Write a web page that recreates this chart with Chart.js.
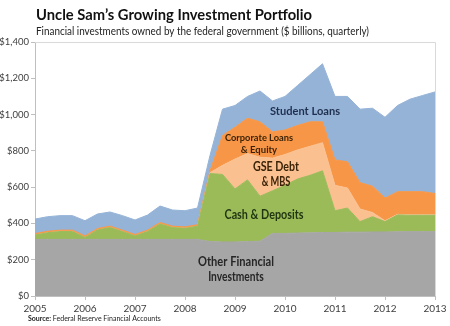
<!DOCTYPE html>
<html lang="en">
<head>
  <meta charset="UTF-8">
  <title>Uncle Sam's Growing Investment Portfolio</title>
  <script src="https://cdn.jsdelivr.net/npm/chart.js"></script>
  <style>
    body { margin: 0; background: #fff; }
    canvas { display: block; }
  </style>
</head>
<body>
  <canvas id="portfolio" width="450" height="326"></canvas>

  <script>
    // quarterly observations, $ billions
    const quarters = [
      '2005Q1','2005Q2','2005Q3','2005Q4','2006Q1','2006Q2','2006Q3','2006Q4',
      '2007Q1','2007Q2','2007Q3','2007Q4','2008Q1','2008Q2','2008Q3','2008Q4',
      '2009Q1','2009Q2','2009Q3','2009Q4','2010Q1','2010Q2','2010Q3','2010Q4',
      '2011Q1','2011Q2','2011Q3','2011Q4','2012Q1','2012Q2','2012Q3','2012Q4',
      '2013Q1'
    ];
    const otherFinancial = [312,312,312,312,312,312,312,312,312,312,312,312,312,312,
      300,298,298,300,302,345,345,347,348,350,350,352,352,353,353,354,355,355,355];
    const cashDeposits = [24,37,43,43,11,52,65,43,19,43,85,65,61,73,
      375,372,292,340,248,235,265,298,317,340,120,133,58,84,57,93,90,90,90];
    const gseDebt = [0,0,0,0,0,0,0,0,0,0,0,0,0,0,
      5,50,165,145,215,180,170,160,160,155,140,110,70,23,5,3,3,3,3];
    const corporateLoans = [8,8,8,8,8,8,8,8,8,8,8,8,8,8,
      10,165,175,195,195,145,135,135,135,115,140,145,145,145,125,125,127,127,117];
    const studentLoans = [80,80,80,80,84,80,78,80,80,83,91,89,89,92,
      85,145,120,120,170,170,185,220,260,320,350,360,405,430,445,475,510,530,560];

    const yearTicks = [2005, 2006, 2007, 2008, 2009, 2010, 2011, 2012, 2013];
    const dollarTicks = [0, 200, 400, 600, 800, 1000, 1200, 1400];

    const toYear = q => Number(q.slice(0, 4)) + (Number(q.slice(5)) - 1) / 4;

    const layers = [
      { label: 'Other Financial Investments', values: otherFinancial, color: '#A6A6A6' },
      { label: 'Cash & Deposits', values: cashDeposits, color: '#9BBB59' },
      { label: 'GSE Debt & MBS', values: gseDebt, color: '#FAC090' },
      { label: 'Corporate Loans & Equity', values: corporateLoans, color: '#F79646' },
      { label: 'Student Loans', values: studentLoans, color: '#95B3D7' }
    ];

    // labels inside the areas, placed in data units
    const areaLabels = [
      { lines: ['Student Loans'], x: 2010.4, y: 1020, size: 12, w: 70, color: '#1F2F4F' },
      { lines: ['Corporate Loans', '& Equity'], x: 2009.48, y: 871, size: 10, w: 68, color: '#3A2208', gap: 66 },
      { lines: ['GSE Debt', '& MBS'], x: 2009.82, y: 711, size: 12.5, w: 46, color: '#3A2208', gap: 83 },
      { lines: ['Cash & Deposits'], x: 2009.58, y: 446, size: 12.5, w: 79, color: '#1E3510' },
      { lines: ['Other Financial', 'Investments'], x: 2009.02, y: 187, size: 12.5, w: 76, color: '#262626', gap: 83 }
    ];

    const textPlugin = {
      id: 'texts',
      afterDatasetsDraw(chart) {
        const { ctx, chartArea: a, scales } = chart;
        ctx.save();
        ctx.strokeStyle = '#D9D9D9';
        ctx.lineWidth = 1;
        ctx.beginPath();
        ctx.moveTo(a.left, a.top + 0.5);
        ctx.lineTo(a.right + 0.5, a.top + 0.5);
        ctx.lineTo(a.right + 0.5, a.bottom);
        ctx.stroke();

        ctx.textAlign = 'center';
        ctx.textBaseline = 'middle';
        areaLabels.forEach(l => {
          ctx.font = 'bold ' + l.size + 'px Lato, "Open Sans", sans-serif';
          ctx.fillStyle = l.color;
          const px = scales.x.getPixelForValue(l.x);
          l.lines.forEach((t, i) => {
            const v = l.y - i * (l.gap || 0);
            ctx.fillText(t, px, scales.y.getPixelForValue(v), i === 0 ? l.w : l.w * t.length / l.lines[0].length);
          });
        });
        ctx.restore();
      },
      afterDraw(chart) {
        const { ctx } = chart;
        ctx.save();
        ctx.textAlign = 'left';
        ctx.textBaseline = 'alphabetic';
        ctx.fillStyle = '#111';
        ctx.font = 'bold 15.5px Lato, "Open Sans", sans-serif';
        ctx.fillText('Uncle Sam\u2019s Growing Investment Portfolio', 36, 20, 276);
        ctx.fillStyle = '#222';
        ctx.font = '11px Lato, "Open Sans", sans-serif';
        ctx.fillText('Financial investments owned by the federal government ($ billions, quarterly)', 36, 35, 333);
        ctx.font = 'bold 7px Lato, "Open Sans", sans-serif';
        ctx.fillStyle = '#222';
        ctx.fillText('Source:', 28, 321);
        const sw = ctx.measureText('Source: ').width;
        ctx.font = '7px Lato, "Open Sans", sans-serif';
        ctx.fillText('Federal Reserve Financial Accounts', 28 + sw, 321);
        ctx.restore();
      }
    };

    const axisColor = '#BFBFBF';

    new Chart(document.getElementById('portfolio'), {
      type: 'line',
      data: {
        datasets: layers.map((l, i) => ({
          label: l.label,
          data: quarters.map((q, k) => ({ x: toYear(q), y: l.values[k] })),
          backgroundColor: l.color,
          borderColor: l.color,
          borderWidth: 1,
          pointRadius: 0,
          tension: 0,
          fill: i === 0 ? 'origin' : '-1'
        }))
      },
      options: {
        responsive: false,
        animation: false,
        layout: { padding: { top: 42, right: 15, left: 0, bottom: 0 } },
        plugins: { legend: { display: false }, tooltip: { enabled: false } },
        scales: {
          x: {
            type: 'linear',
            min: yearTicks[0],
            max: yearTicks[yearTicks.length - 1],
            afterBuildTicks: s => { s.ticks = yearTicks.map(v => ({ value: v })); },
            afterFit: s => { s.height = 30; },
            ticks: {
              callback: v => String(v),
              color: '#404040',
              font: { family: 'Lato, "Open Sans", sans-serif', size: 10 },
              padding: 3,
              maxRotation: 0
            },
            grid: { drawOnChartArea: false, tickLength: 4, color: axisColor },
            border: { color: axisColor }
          },
          y: {
            stacked: true,
            min: 0,
            max: 1400,
            afterBuildTicks: s => { s.ticks = dollarTicks.map(v => ({ value: v })); },
            afterFit: s => { s.width = 35; },
            ticks: {
              callback: v => '$' + v.toLocaleString('en-US'),
              color: '#404040',
              font: { family: 'Lato, "Open Sans", sans-serif', size: 9.5 },
              padding: 2
            },
            grid: { drawOnChartArea: false, tickLength: 4, color: axisColor },
            border: { color: axisColor }
          }
        }
      },
      plugins: [textPlugin]
    });
  </script>
</body>
</html>
